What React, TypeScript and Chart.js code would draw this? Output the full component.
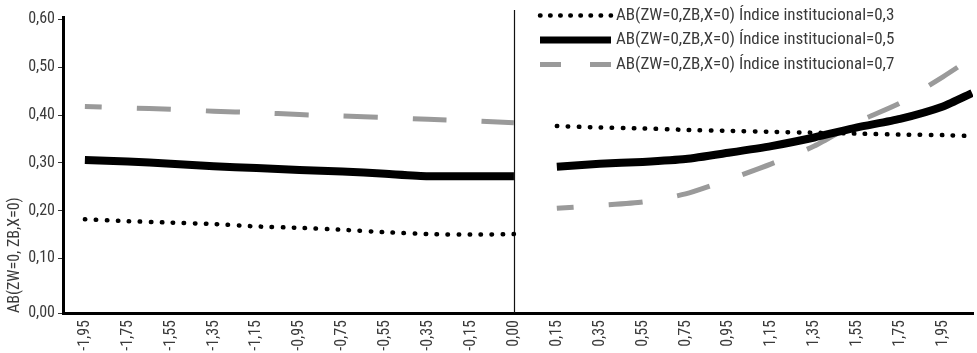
import { useEffect, useRef } from 'react';
import { Chart, registerables } from 'chart.js';

Chart.register(...registerables);

// Tick labels of the category axis (one slot each, evenly spaced)
const xLabels = [
  '-1,95', '-1,75', '-1,55', '-1,35', '-1,15', '-0,95', '-0,75', '-0,55', '-0,35', '-0,15',
  '0,00',
  '0,15', '0,35', '0,55', '0,75', '0,95', '1,15', '1,35', '1,55', '1,75', '1,95',
];

// Slot positions of the samples: left branch -1,95..0,00, right branch 0,15..1,95 plus the trailing sample
const leftSlots = [0, 1, 2, 3, 4, 5, 6, 7, 8, 9, 10];
const rightSlots = [11, 12, 13, 14, 15, 16, 17, 18, 19, 20, 20.68];

const yTicks = [0, 0.1, 0.2, 0.3, 0.4, 0.5, 0.6];

const seriesLabels = [
  'AB(ZW=0,ZB,X=0) Índice institucional=0,3',
  'AB(ZW=0,ZB,X=0) Índice institucional=0,5',
  'AB(ZW=0,ZB,X=0) Índice institucional=0,7',
];

// Índice institucional = 0,3
const inst03Left = [0.182, 0.178, 0.175, 0.172, 0.167, 0.164, 0.16, 0.155, 0.151, 0.15, 0.151];
const inst03Right = [0.377, 0.374, 0.372, 0.369, 0.367, 0.365, 0.363, 0.361, 0.359, 0.358, 0.356];

// Índice institucional = 0,5
const inst05Left = [0.306, 0.303, 0.298, 0.293, 0.289, 0.285, 0.282, 0.277, 0.272, 0.272, 0.272];
const inst05Right = [0.292, 0.298, 0.302, 0.308, 0.321, 0.335, 0.353, 0.374, 0.392, 0.418, 0.446];

// Índice institucional = 0,7
const inst07Left = [0.418, 0.415, 0.412, 0.408, 0.405, 0.401, 0.398, 0.395, 0.391, 0.388, 0.384];
const inst07Right = [0.205, 0.211, 0.218, 0.235, 0.265, 0.298, 0.335, 0.385, 0.425, 0.48, 0.52];

const FONT = '"Roboto Condensed", "Open Sans", sans-serif';
const TEXT = '#3a3a3a';
const GREY = '#9a9a9a';

function branchPoints(left: number[], right: number[]) {
  return [
    ...left.map((y, i) => ({ x: leftSlots[i], y })),
    { x: (leftSlots[leftSlots.length - 1] + rightSlots[0]) / 2, y: null as number | null },
    ...right.map((y, i) => ({ x: rightSlots[i], y })),
  ];
}

// Legend samples: each row draws a short stroke in the series' style
const legendStyles = [
  { color: '#000000', width: 4.5, dash: [0.5, 9.6], cap: 'round' as CanvasLineCap },
  { color: '#000000', width: 7, dash: [] as number[], cap: 'butt' as CanvasLineCap },
  { color: GREY, width: 5, dash: [21, 29], cap: 'butt' as CanvasLineCap },
];

const legendPlugin = {
  id: 'lineLegend',
  afterDraw(chart: Chart) {
    const { ctx, chartArea } = chart;
    const x0 = chartArea.right - 433;
    const x1 = x0 + 71;
    ctx.save();
    seriesLabels.forEach((label, i) => {
      const y = chartArea.top - 1.5 + i * 24.5;
      const st = legendStyles[i];
      ctx.beginPath();
      ctx.strokeStyle = st.color;
      ctx.lineWidth = st.width;
      ctx.lineCap = st.cap;
      ctx.setLineDash(st.dash);
      ctx.moveTo(x0, y);
      ctx.lineTo(x1, y);
      ctx.stroke();
      ctx.setLineDash([]);
      ctx.fillStyle = TEXT;
      ctx.font = `17px ${FONT}`;
      ctx.textAlign = 'left';
      ctx.textBaseline = 'middle';
      ctx.fillText(label, x1 + 5, y);
    });
    ctx.restore();
  },
};

// Thin vertical reference line at 0,00
const zeroLinePlugin = {
  id: 'zeroLine',
  beforeDatasetsDraw(chart: Chart) {
    const { ctx, chartArea, scales } = chart;
    const x = Math.round(scales.x.getPixelForValue(xLabels.indexOf('0,00'))) + 0.5;
    ctx.save();
    ctx.beginPath();
    ctx.strokeStyle = '#111111';
    ctx.lineWidth = 1.2;
    ctx.moveTo(x, chartArea.top - 7);
    ctx.lineTo(x, chartArea.bottom);
    ctx.stroke();
    ctx.restore();
  },
};

export default function App() {
  const canvasRef = useRef<HTMLCanvasElement | null>(null);

  useEffect(() => {
    document.body.style.margin = '0';
    const canvas = canvasRef.current;
    if (!canvas) return;
    const yMin = -0.014;

    const chart = new Chart(canvas, {
      type: 'line',
      data: {
        datasets: [
          {
            label: seriesLabels[0],
            data: branchPoints(inst03Left, inst03Right),
            borderColor: '#000000',
            borderWidth: 4.5,
            borderDash: [0.5, 10.5],
            borderCapStyle: 'round',
            pointRadius: 0,
            tension: 0.2,
          },
          {
            label: seriesLabels[1],
            data: branchPoints(inst05Left, inst05Right),
            borderColor: '#000000',
            borderWidth: 8,
            borderCapStyle: 'butt',
            borderJoinStyle: 'round',
            pointRadius: 0,
            tension: 0.2,
          },
          {
            label: seriesLabels[2],
            data: branchPoints(inst07Left, inst07Right),
            borderColor: GREY,
            borderWidth: 5,
            borderDash: [34, 35],
            borderDashOffset: 17,
            borderCapStyle: 'butt',
            pointRadius: 0,
            tension: 0.2,
          },
        ],
      },
      options: {
        responsive: false,
        animation: false,
        devicePixelRatio: 1,
        layout: { padding: { top: 17, right: 4, left: 0, bottom: 0 } },
        plugins: {
          legend: { display: false },
          tooltip: { enabled: false },
        },
        scales: {
          x: {
            type: 'linear',
            min: -0.51,
            max: 20.7,
            afterBuildTicks: (scale: any) => {
              scale.ticks = xLabels.map((_, i) => ({ value: i }));
            },
            afterFit: (scale: any) => {
              scale.height = 40;
            },
            grid: { display: false, drawTicks: false },
            border: { display: true, color: '#000000', width: 3 },
            ticks: {
              autoSkip: false,
              minRotation: 90,
              maxRotation: 90,
              padding: 7,
              color: TEXT,
              font: { family: FONT, size: 16 },
              callback: (value: any) => xLabels[Number(value)] ?? '',
            },
          },
          y: {
            type: 'linear',
            min: yMin,
            max: 0.605,
            afterBuildTicks: (scale: any) => {
              scale.ticks = yTicks.map((v) => ({ value: v === 0 ? yMin : v }));
            },
            afterFit: (scale: any) => {
              scale.width = 63;
            },
            grid: {
              display: true,
              drawOnChartArea: false,
              drawTicks: true,
              tickLength: 5,
              tickColor: '#333333',
              lineWidth: 1,
            },
            border: { display: true, color: '#000000', width: 3 },
            title: {
              display: true,
              text: 'AB(ZW=0, ZB,X=0)',
              align: 'start',
              color: TEXT,
              font: { family: FONT, size: 16 },
              padding: { top: 5, bottom: 0 },
            },
            ticks: {
              padding: 3,
              color: TEXT,
              font: { family: FONT, size: 16 },
              callback: (value: any) =>
                (Number(value) < 0.05 ? 0 : Number(value)).toFixed(2).replace('.', ','),
            },
          },
        },
      },
      plugins: [zeroLinePlugin, legendPlugin],
    });

    return () => chart.destroy();
  }, []);

  return (
    <div style={{ width: 977, height: 353 }}>
      <canvas ref={canvasRef} width={977} height={353} style={{ display: 'block', width: 977, height: 353 }} />
    </div>
  );
}
